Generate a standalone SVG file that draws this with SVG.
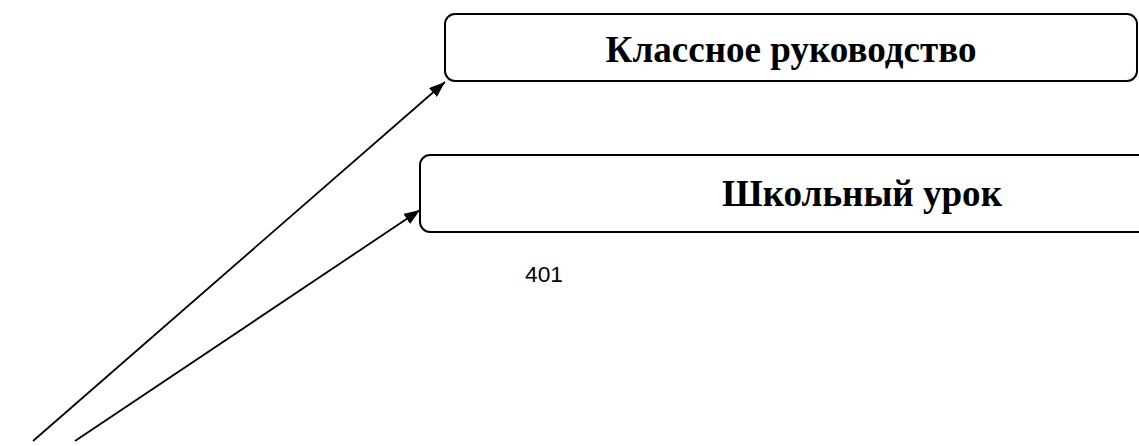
<svg xmlns="http://www.w3.org/2000/svg" width="1139" height="446" viewBox="0 0 1139 446">
<style>
.box{fill:#fff;stroke:#000;stroke-width:2}
.t{font-family:"Liberation Serif",serif;font-weight:bold;font-size:38px;fill:#000;text-anchor:middle}
.c{stroke:#000;stroke-width:1.8;fill:none}
.n{font-family:"Liberation Sans",sans-serif;font-size:22px;fill:#000}
</style>
<defs>
<marker id="ah" viewBox="0 0 16 12" refX="16" refY="6" markerWidth="16" markerHeight="12" markerUnits="userSpaceOnUse" orient="auto">
<path d="M0,0 L16,6 L0,12 z" fill="#000"/>
</marker>
</defs>
<rect width="1139" height="446" fill="#fff"/>
<g id="n1">
<rect class="box" x="445" y="14" width="692" height="67" rx="10"/>
<text class="t" x="791" y="62" textLength="371" lengthAdjust="spacingAndGlyphs">Классное руководство</text>
</g>
<g id="n2">
<rect class="box" x="420" y="155" width="740" height="77" rx="10"/>
<text class="t" x="862" y="206" textLength="280" lengthAdjust="spacingAndGlyphs">Школьный урок</text>
</g>
<g id="lbl">
<text class="n" x="525" y="282" textLength="38" lengthAdjust="spacingAndGlyphs">401</text>
</g>
<g id="connectors">
<line class="c" x1="33" y1="441" x2="445" y2="82" marker-end="url(#ah)"/>
<line class="c" x1="75" y1="441" x2="420" y2="210" marker-end="url(#ah)"/>
</g>
</svg>
